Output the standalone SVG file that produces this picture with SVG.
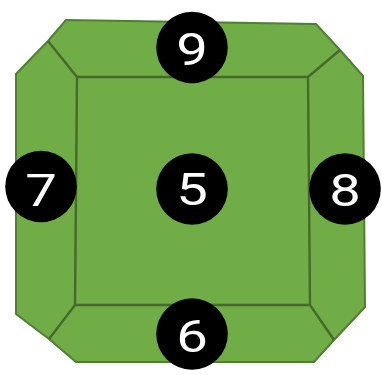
<svg xmlns="http://www.w3.org/2000/svg" width="382" height="375" viewBox="0 0 382 375">
<style>
.f{fill:#70ad47}
.o{fill:none;stroke:#507e32;stroke-width:2}
.i{fill:none;stroke:#46692c;stroke-width:2.4}
.c{fill:#000}
.t{fill:#fff;font-family:Roboto,"Liberation Sans",sans-serif;font-weight:400;font-size:44px;text-anchor:middle}
</style>
<g id="body">
<path class="f" d="M66 20L316 24L340 50L363 76L365 307L334 340L314 362L76 362L49 339L16 314L16 74L48 41Z"/>
</g>
<g id="connectors">
<path class="o" d="M48 41L66 20L316 24L340 50L363 76L365 307L334 340L314 362L76 362L49 339L16 314L16 74L48 41"/>
<path class="i" d="M48 41L77 77L308 77L340 50M77 77L75 305L310 305L308 77M75 305L49 339M310 305L334 340"/>
</g>
<g id="n9"><circle class="c" cx="192" cy="47.5" r="35.8"/><text class="t" transform="translate(192 65) scale(1.28 1)">9</text></g>
<g id="n7"><circle class="c" cx="41" cy="186.5" r="35.8"/><text class="t" transform="translate(41 205.5) scale(1.28 1)">7</text></g>
<g id="n5"><circle class="c" cx="192" cy="189" r="35.8"/><text class="t" transform="translate(192 204.5) scale(1.28 1)">5</text></g>
<g id="n8"><circle class="c" cx="345" cy="189" r="35.8"/><text class="t" transform="translate(345 205.5) scale(1.28 1)">8</text></g>
<g id="n6"><circle class="c" cx="192" cy="334" r="35.8"/><text class="t" transform="translate(192 351.5) scale(1.28 1)">6</text></g>
</svg>
